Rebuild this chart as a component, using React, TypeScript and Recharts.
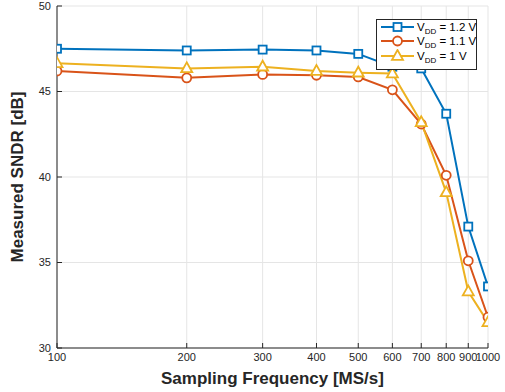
import React from 'react';
import { LineChart, Line, XAxis, YAxis, CartesianGrid, Legend, Label } from 'recharts';

const freqs = [100, 200, 300, 400, 500, 600, 700, 800, 900, 1000];
const sndrVdd12 = [47.5, 47.4, 47.45, 47.4, 47.2, 46.45, 46.35, 43.7, 37.1, 33.6];
const sndrVdd11 = [46.2, 45.8, 46.0, 45.95, 45.85, 45.1, 43.1, 40.1, 35.1, 31.8];
const sndrVdd10 = [46.65, 46.35, 46.45, 46.2, 46.1, 46.05, 43.2, 39.1, 33.3, 31.5];
const xTicks = [100, 200, 300, 400, 500, 600, 700, 800, 900, 1000];
const yTicks = [30, 35, 40, 45, 50];
const seriesLabels = ['1.2 V', '1.1 V', '1 V'];
const seriesColors = ['#0072BD', '#D95319', '#EDB120'];
const seriesKeys = ['v12', 'v11', 'v10'];
const seriesShapes = ['square', 'circle', 'triangle'];

const data = freqs.map((f, i) => ({ f, v12: sndrVdd12[i], v11: sndrVdd11[i], v10: sndrVdd10[i] }));

const FONT = '"Liberation Sans", Arial, Helvetica, sans-serif';
const AXIS = '#262626';

function Marker({ shape, cx, cy, color }: { shape: string; cx: number; cy: number; color: string }) {
  if (cx == null || cy == null || isNaN(cx) || isNaN(cy)) return null;
  if (shape === 'square')
    return <rect x={cx - 4} y={cy - 4} width={8} height={8} fill="#fff" stroke={color} strokeWidth={1.8} />;
  if (shape === 'circle') return <circle cx={cx} cy={cy} r={4.5} fill="#fff" stroke={color} strokeWidth={1.8} />;
  return (
    <polygon
      points={`${cx},${cy - 6} ${cx - 5.5},${cy + 3.8} ${cx + 5.5},${cy + 3.8}`}
      fill="#fff"
      stroke={color}
      strokeWidth={1.8}
    />
  );
}

function LegendBox() {
  return (
    <div
      style={{
        border: '1px solid #262626',
        background: '#fff',
        width: 101,
        padding: '0px 0 6px 0',
        fontFamily: FONT,
        fontSize: 11.5,
        color: '#000',
        boxSizing: 'border-box',
      }}
    >
      {seriesLabels.map((lab, i) => (
        <div key={lab} style={{ display: 'flex', alignItems: 'center', height: 14.3, lineHeight: '14px' }}>
          <svg width={40} height={14} style={{ display: 'block', flex: 'none' }}>
            <line x1={4} x2={37} y1={7} y2={7} stroke={seriesColors[i]} strokeWidth={2} />
            <Marker shape={seriesShapes[i]} cx={20.5} cy={7} color={seriesColors[i]} />
          </svg>
          <span style={{ whiteSpace: 'nowrap' }}>
            V<sub style={{ fontSize: 8, verticalAlign: '-3px', lineHeight: 0 }}>DD</sub> = {lab}
          </span>
        </div>
      ))}
    </div>
  );
}

export default function App() {
  return (
    <div style={{ position: 'absolute', left: 0, top: 0, width: 505, height: 392, background: '#fff' }}>
      <LineChart width={505} height={392} data={data} margin={{ top: 6, right: 17, bottom: 0, left: 0 }}>
        <CartesianGrid stroke="#e5e5e5" strokeWidth={1} />
        <XAxis
          dataKey="f"
          type="number"
          scale="log"
          domain={[100, 1000]}
          ticks={xTicks}
          allowDataOverflow
          height={44}
          tickSize={-5}
          tickMargin={10}
          interval={0}
          stroke={AXIS}
          tick={{ fill: '#262626', fontSize: 11, fontFamily: FONT }}
          tickLine={{ stroke: AXIS }}
          axisLine={{ stroke: AXIS }}
        >
          <Label
            content={(props: any) => {
              const vb = props.viewBox || {};
              return (
                <text
                  x={vb.x + vb.width / 2}
                  y={384}
                  textAnchor="middle"
                  fontFamily={FONT}
                  fontWeight="bold"
                  fontSize={17}
                  fill="#262626"
                >
                  Sampling Frequency [MS/s]
                </text>
              );
            }}
          />
        </XAxis>
        <XAxis
          xAxisId="top"
          orientation="top"
          dataKey="f"
          type="number"
          scale="log"
          domain={[100, 1000]}
          ticks={xTicks}
          allowDataOverflow
          height={0}
          tickSize={-5}
          interval={0}
          tickFormatter={() => ''}
          stroke={AXIS}
          tickLine={{ stroke: AXIS }}
          axisLine={{ stroke: AXIS }}
        />
        <YAxis
          type="number"
          domain={[30, 50]}
          ticks={yTicks}
          allowDataOverflow
          width={57}
          tickSize={-5}
          tickMargin={11}
          interval={0}
          stroke={AXIS}
          tick={{ fill: '#262626', fontSize: 11, fontFamily: FONT }}
          tickLine={{ stroke: AXIS }}
          axisLine={{ stroke: AXIS }}
        >
          <Label
            content={(props: any) => {
              const vb = props.viewBox || {};
              const cx = 17;
              const cy = vb.y + vb.height / 2;
              return (
                <text
                  x={cx}
                  y={cy}
                  transform={`rotate(-90, ${cx}, ${cy})`}
                  textAnchor="middle"
                  dominantBaseline="central"
                  fontFamily={FONT}
                  fontWeight="bold"
                  fontSize={17}
                  fill="#262626"
                >
                  Measured SNDR [dB]
                </text>
              );
            }}
          />
        </YAxis>
        <YAxis
          yAxisId="right"
          orientation="right"
          type="number"
          domain={[30, 50]}
          ticks={yTicks}
          allowDataOverflow
          width={0}
          tickSize={-5}
          interval={0}
          tickFormatter={() => ''}
          stroke={AXIS}
          tickLine={{ stroke: AXIS }}
          axisLine={{ stroke: AXIS }}
        />
        {seriesKeys.map((k, i) => (
          <Line
            key={k}
            dataKey={k}
            name={seriesLabels[i]}
            stroke={seriesColors[i]}
            strokeWidth={2}
            isAnimationActive={false}
            dot={(p: any) => (
              <Marker key={`${k}-${p.index}`} shape={seriesShapes[i]} cx={p.cx} cy={p.cy} color={seriesColors[i]} />
            )}
            activeDot={false}
          />
        ))}
        <Legend
          layout="horizontal"
          verticalAlign="middle"
          align="center"
          content={() => <LegendBox />}
          wrapperStyle={{ position: 'absolute', left: 376, top: 19, width: 101, bottom: 'auto', right: 'auto' }}
        />
      </LineChart>
    </div>
  );
}
